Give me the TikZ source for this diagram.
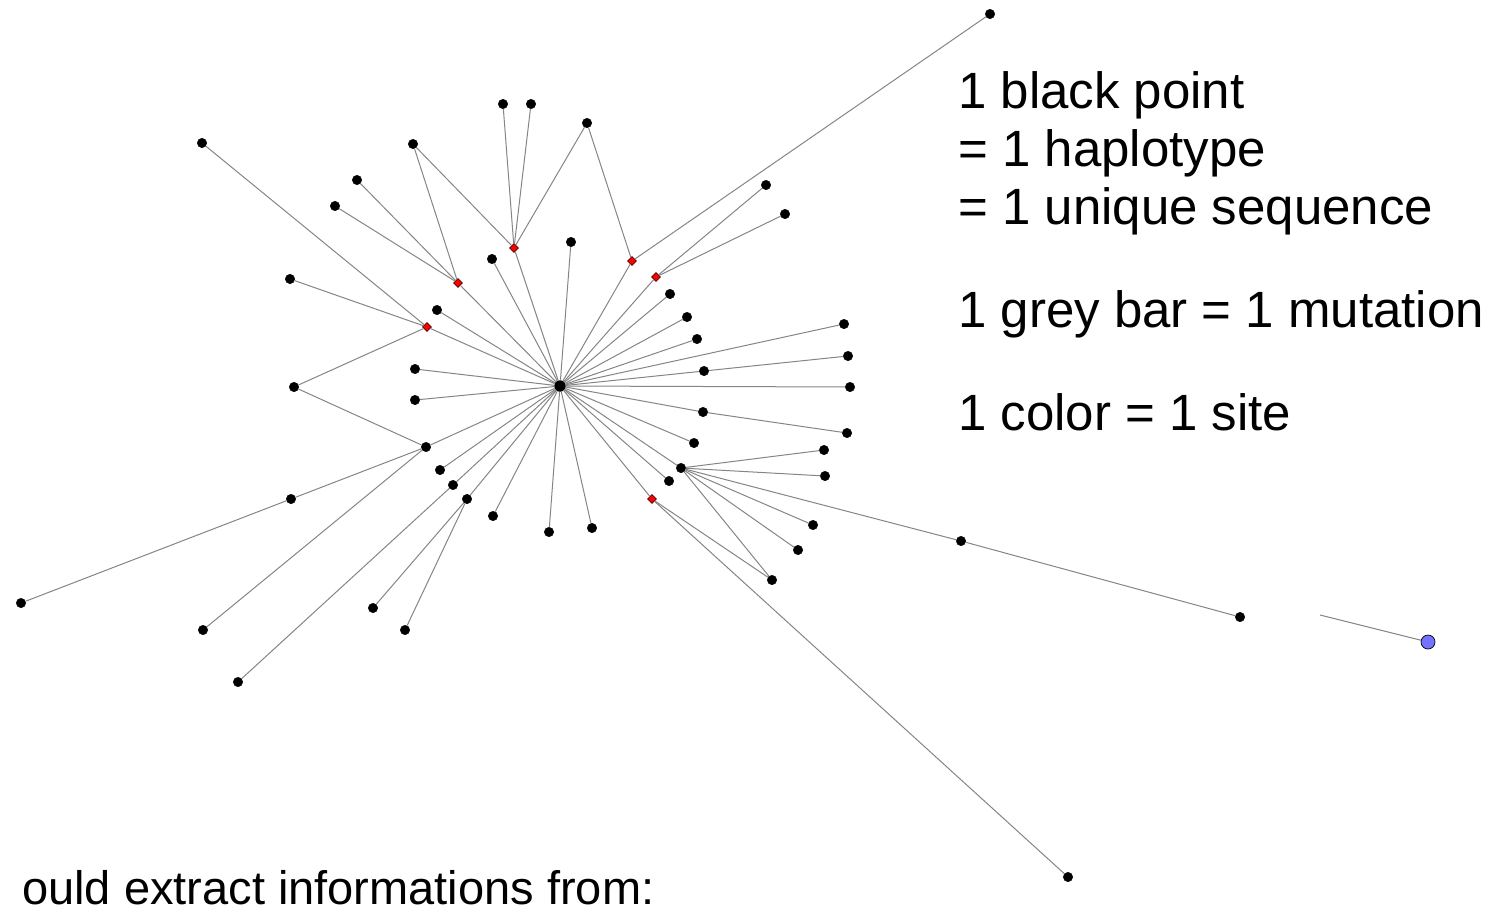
\documentclass[tikz,border=0pt]{standalone}
\usepackage{fontspec}
\setmainfont{Liberation Sans}
\usetikzlibrary{shapes.geometric}
\begin{document}
\begin{tikzpicture}[x=1pt,y=-1pt,
  hap/.style={circle, fill=black, draw=black, line width=0.4pt, inner sep=0pt, minimum size=9.5pt},
  hub/.style={circle, fill=black, inner sep=0pt, minimum size=11.5pt},
  med/.style={diamond, fill=red, draw=black!70!red, line width=0.6pt, inner sep=0pt, minimum size=9pt},
  bluehap/.style={circle, fill=blue!55!white, draw=black, line width=0.7pt, inner sep=0pt, minimum size=14pt},
  link/.style={draw=black!48, line width=1pt},
  lbl/.style={anchor=base west, inner sep=0pt, font=\fontsize{51}{60}\selectfont},
  lblb/.style={anchor=base west, inner sep=0pt, font=\fontsize{47}{56}\selectfont}]
\useasboundingbox (0,0) rectangle (1505,911);
% hub
\node[hub] (C) at (560,386) {};
% median (red) vectors
\node[med] (r514) at (514,248) {};
\node[med] (r632) at (632,261) {};
\node[med] (r656) at (656,277) {};
\node[med] (r458) at (458,283) {};
\node[med] (r427) at (427,327) {};
\node[med] (r652) at (652,499) {};
% haplotypes
\node[hap] (n990) at (990,14) {};
\node[hap] (n503) at (503,104) {};
\node[hap] (n531) at (531,104) {};
\node[hap] (n587) at (587,123) {};
\node[hap] (n202) at (202,143) {};
\node[hap] (n413) at (413,144) {};
\node[hap] (n357) at (357,180) {};
\node[hap] (n766) at (766,185) {};
\node[hap] (n335) at (335,206) {};
\node[hap] (n785) at (785,214) {};
\node[hap] (n571) at (571,242) {};
\node[hap] (n492) at (492,259) {};
\node[hap] (n290) at (290,279) {};
\node[hap] (n670) at (670,294) {};
\node[hap] (n437) at (437,310) {};
\node[hap] (n687) at (687,317) {};
\node[hap] (n844) at (844,324) {};
\node[hap] (n697) at (697,339) {};
\node[hap] (n848) at (848,356) {};
\node[hap] (n704) at (704,371) {};
\node[hap] (n415a) at (415,369) {};
\node[hap] (n294) at (294,387) {};
\node[hap] (n850) at (850,387) {};
\node[hap] (n415b) at (415,400) {};
\node[hap] (n703) at (703,412) {};
\node[hap] (n847) at (847,433) {};
\node[hap] (n694) at (694,443) {};
\node[hap] (n426) at (426,447) {};
\node[hap] (n824) at (824,450) {};
\node[hap] (n681) at (681,468) {};
\node[hap] (n440) at (440,470) {};
\node[hap] (n825) at (825,476) {};
\node[hap] (n669) at (669,481) {};
\node[hap] (n453) at (453,485) {};
\node[hap] (n467) at (467,499) {};
\node[hap] (n291) at (291,499) {};
\node[hap] (n493) at (493,516) {};
\node[hap] (n813) at (813,525) {};
\node[hap] (n592) at (592,528) {};
\node[hap] (n549) at (549,532) {};
\node[hap] (n961) at (961,541) {};
\node[hap] (n798) at (798,550) {};
\node[hap] (n772) at (772,580) {};
\node[hap] (n21) at (21,603) {};
\node[hap] (n373) at (373,608) {};
\node[hap] (n1240) at (1240,617) {};
\node[hap] (n203) at (203,630) {};
\node[hap] (n405) at (405,630) {};
\node[hap] (n238) at (238,682) {};
\node[hap] (n1068) at (1068,877) {};
\node[bluehap] (blue) at (1428,642) {};
\coordinate (bfree) at (1320,615);
% links
\foreach \a/\b in {
  r514/C, r632/C, r656/C, r458/C, r427/C, r652/C,
  n503/r514, n531/r514, n587/r514, n413/r514, n587/r632, n990/r632,
  n766/r656, n785/r656, n413/r458, n357/r458, n335/r458,
  n202/r427, n290/r427, n294/r427, n294/n426,
  n571/C, n492/C, n670/C, n437/C, n687/C, n844/C, n697/C, n704/C, n848/n704,
  n415a/C, n850/C, n415b/C, n703/C, n847/n703, n694/C,
  n426/C, n291/n426, n203/n426, n21/n291,
  n681/C, n824/n681, n825/n681, n813/n681, n798/n681, n772/n681, n961/n681, n1240/n961,
  n440/C, n669/C, n453/C, n238/n453, n467/C, n373/n467, n405/n467,
  n493/C, n592/C, n549/C, n772/r652, n1068/r652}
  {\draw[link] (\a) -- (\b);}
\draw[link] (bfree) -- (blue);
% legend text
\node[lbl] (t1) at (958,108) {1 black point};
\node[lbl] (t2) at (958,166) {= 1 haplotype};
\node[lbl] (t3) at (958,224) {= 1 unique sequence};
\node[lbl] (t4) at (958,327) {1 grey bar = 1 mutation};
\node[lbl] (t5) at (958,430) {1 color = 1 site};
\node[lblb] (t6) at (22,904) {ould extract informations from:};
\end{tikzpicture}
\end{document}
